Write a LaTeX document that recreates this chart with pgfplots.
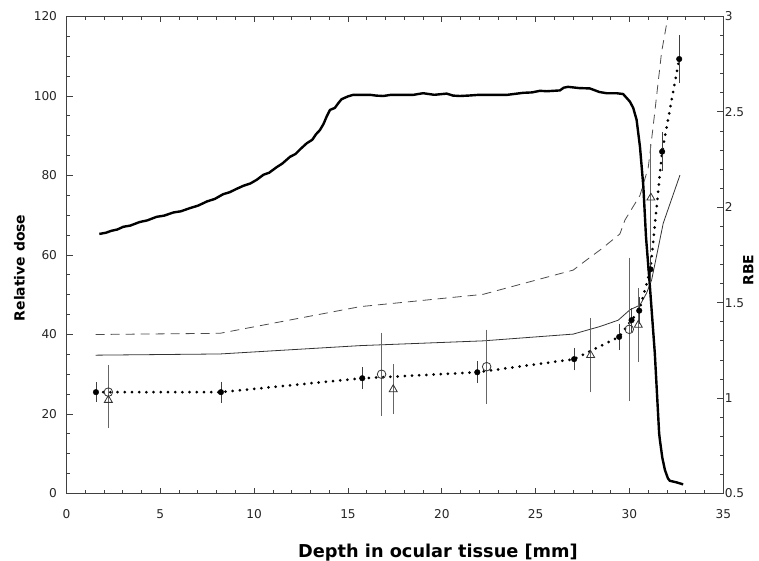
\documentclass[border=0pt]{standalone}
\usepackage{pgfplots}
\pgfplotsset{compat=1.18}
\usepackage{fontspec}
\setmainfont{DejaVu Sans}
\begin{document}
\begin{tikzpicture}
\pgfplotsset{
  every axis/.append style={
    width=656.8bp, height=477bp, scale only axis,
    at={(0,0)}, anchor=south west,
    xmin=0, xmax=35,
    axis line style={draw=black!75, line width=1.1bp},
    tick style={draw=black!75, line width=0.8bp},
    major tick length=6bp, minor tick length=3.5bp,
    tick align=inside,
    tick label style={font=\fontsize{12.2}{14}\selectfont, text=black!85},
    /pgf/number format/assume math mode=true,
    label style={font=\bfseries\fontsize{14}{16}\selectfont},
  }
}
% RBE axis (right)
\begin{axis}[
  ymin=0.5, ymax=3,
  axis x line=none,
  axis y line*=right,
  ytick={0.5,1,1.5,2,2.5,3},
  yticklabels={0.5,1,1.5,2,2.5,3},
  minor y tick num=4,
  yticklabel style={anchor=west, xshift=-2bp},
  ylabel={RBE},
  ylabel style={at={(axis description cs:1,0.4686)}, anchor=center, yshift=-25bp, inner sep=1bp},
  clip=true,
]
\addplot[black!70, line width=0.8bp, dash pattern=on 9bp off 6bp] coordinates {
(1.55,1.3333) (8.18,1.3396) (15.64,1.4792) (22.2,1.5438) (27.0,1.6708) (27.7,1.7229)
(28.5,1.7813) (29.49,1.8604) (29.76,1.9333) (30.56,2.0625) (31.0,2.2083)
(31.26,2.4229) (31.71,2.8125) (32.05,3.0)
};
\addplot[black!80, line width=0.8bp] coordinates {
(1.55,1.225) (8.18,1.2313) (15.64,1.275) (22.2,1.3) (27.0,1.3354) (28.42,1.375)
(29.4,1.4083) (30.02,1.4625) (30.56,1.4875) (30.91,1.55) (31.18,1.6188)
(31.8,1.9167) (32.69,2.1688)
};
\end{axis}
% Dose axis (left)
\begin{axis}[
  ymin=0, ymax=120,
  xtick={0,5,...,35},
  minor x tick num=4,
  ytick={0,20,...,120},
  minor y tick num=3,
  ytick pos=left,
  xtick pos=both,
  xticklabel pos=bottom,
  yticklabel style={anchor=east, xshift=-6bp},
  xticklabel style={anchor=base, yshift=-24.5bp},
  xlabel={Depth in ocular tissue [mm]},
  xlabel style={at={(axis description cs:0.5656,0)}, anchor=base, yshift=-63.5bp,
    font=\bfseries\fontsize{17.8}{20}\selectfont},
  ylabel={Relative dose},
  ylabel style={at={(axis description cs:0,0.473)}, anchor=center, yshift=47bp},
]
% measured dose
\addplot[black, line width=2.4bp, line join=round] coordinates {
(1.75,65.3) (2.1,65.6) (2.4,66.1) (2.7,66.4) (3.03,67.1) (3.4,67.4) (3.9,68.3) (4.3,68.7) (4.80,69.6) (5.2,69.9) (5.7,70.7) (6.1,71.0) (6.58,71.8)
(7.0,72.4) (7.5,73.5) (7.9,74.1) (8.35,75.3) (8.7,75.8) (9.0,76.5) (9.42,77.4) (9.8,78.0) (10.13,78.9) (10.5,80.2) (10.8,80.7) (11.2,82.1)
(11.5,83.0) (11.91,84.7) (12.2,85.4) (12.5,86.8) (12.8,88.1) (13.1,89.0) (13.3,90.4) (13.5,91.4) (13.7,93.0) (13.86,94.8)
(14.04,96.5) (14.3,97.0) (14.5,98.3) (14.66,99.2) (15.0,99.9) (15.28,100.3) (16.17,100.3) (16.5,100.1) (16.88,100.0)
(17.3,100.3) (18.5,100.3) (19.0,100.7) (19.6,100.3) (20.26,100.6) (20.6,100.1) (20.96,100.0)
(21.4,100.1) (22.0,100.3) (23.5,100.3) (24.34,100.8) (24.8,100.9) (25.23,101.3) (25.6,101.2) (26.29,101.4) (26.5,102.1) (26.73,102.3)
(27.3,102.0) (27.89,101.9) (28.4,101.0) (28.78,100.7) (29.3,100.7) (29.66,100.5) (30.02,98.6)
(30.2,97.0) (30.38,94.0) (30.56,87.2) (30.74,77.2) (30.88,64.6) (31.09,52.0)
(31.35,35.3) (31.58,15.2) (31.62,13.5) (31.75,9.0) (31.89,5.9) (32.05,3.8)
(32.15,3.2) (32.51,2.8) (32.86,2.3)
};
% dotted line through filled points
\addplot[black, line width=3bp, line cap=round, dash pattern=on 0bp off 7.2bp] coordinates {
(1.57,25.5) (8.23,25.5) (15.76,29.0) (21.89,30.5) (27.05,33.8) (29.45,39.4)
(30.11,43.6) (30.52,46.0) (31.12,56.4) (31.74,86.0) (32.65,109.3)
};
% open circles
\addplot[only marks, mark=o, mark size=4.3bp, black!80, mark options={fill=white, line width=0.8bp},
  error bars/.cd, y dir=both, y explicit,
  error bar style={black!60, line width=0.8bp},
  error mark options={black!60, line width=0.8bp, mark size=1.8bp}]
coordinates {
(2.23,25.5) +- (0,6.4)
(16.79,30.0) +- (0,10.0)
(22.39,31.9) +- (0,8.9)
(29.99,41.3) +- (0,17.6)
};
% open triangles
\addplot[only marks, mark=triangle, mark size=4.6bp, black!80, mark options={fill=white, line width=0.8bp},
  error bars/.cd, y dir=both, y explicit,
  error bar style={black!60, line width=0.8bp},
  error mark options={black!60, line width=0.8bp, mark size=1.8bp}]
coordinates {
(2.23,23.5) +- (0,6.5)
(17.41,26.2) +- (0,5.8)
(27.93,34.8) +- (0,8.9)
(30.47,42.4) +- (0,8.8)
(31.14,74.4) +- (0,13.1)
};
% filled points
\addplot[only marks, mark=*, mark size=2.8bp, black,
  error bars/.cd, y dir=both, y explicit,
  error bar style={black!75, line width=0.7bp},
  error mark options={black!75, line width=0.7bp, mark size=1.8bp}]
coordinates {
(1.57,25.5) +- (0,2.0)
(8.23,25.5) +- (0,2.2)
(15.76,29.0) +- (0,2.3)
(21.89,30.5) +- (0,2.3)
(27.05,33.8) +- (0,2.4)
(29.45,39.4) +- (0,2.9)
(30.11,43.6) +- (0,2.5)
(30.52,46.0) +- (0,3.0)
(31.12,56.4) +- (0,3.0)
(31.74,86.0) +- (0,4.4)
(32.65,109.3) +- (0,5.6)
};
\end{axis}
\pgfresetboundingbox
\path (-66.5bp,-67.5bp) rectangle (692.5bp,493.5bp);
\end{tikzpicture}
\end{document}
